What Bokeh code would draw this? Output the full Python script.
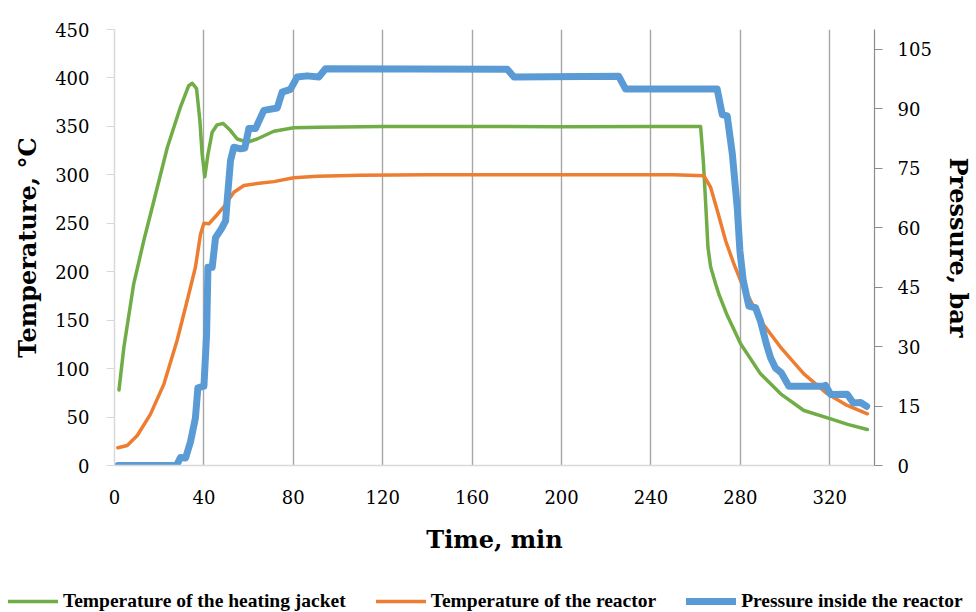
from bokeh.plotting import figure
from bokeh.layouts import column
from bokeh.models import Range1d, LinearAxis, Legend, LegendItem, FixedTicker
from bokeh.embed import file_html
from bokeh.resources import INLINE

# ---- data ----
jacket_t = [2, 4.2, 8.6, 13.1, 17.6, 23.6, 29.5, 33.2, 34.8, 36.7, 38.2, 39.2, 40.4, 41.8,
            43.7, 45.9, 48.6, 51.9, 54.9, 59.4, 63.8, 71.3, 80.2, 91.4, 120, 160, 200, 240,
            262.2, 263.4, 264.4, 265.5, 266.7, 268.9, 270.5, 274.1, 280.1, 289, 298, 308.4,
            320.4, 328, 336.8]
jacket_T = [78, 122, 187.5, 232, 273, 328, 370, 392, 394.5, 389, 356, 321.7, 298, 321,
            344, 351.6, 353, 345.7, 337, 333.6, 337, 345, 348.5, 349, 350, 350, 349.5, 350,
            350, 315, 273.5, 225, 205, 187.5, 176, 155, 125.6, 94.6, 74, 56.8,
            48.2, 42.5, 37.2]

reactor_t = [1.5, 5.7, 10.2, 16.1, 22.1, 28, 32.5, 36.2, 38.5, 40, 42.2, 45.2, 48.9, 53.4,
             57.9, 63.8, 71.3, 80.2, 90.7, 110, 140, 180, 220, 250, 263.7, 266.7, 269.7,
             273.4, 277.1, 280.4, 289, 298, 308.4, 318.9, 327.8, 336.8]
reactor_T = [18.3, 20.6, 31, 53, 84, 129, 170, 204.6, 239, 250, 249.4, 257, 267, 282,
             289, 291, 293, 297, 298.5, 299.5, 300, 300, 300, 300, 299, 287, 263,
             232, 208, 189, 149.6, 122, 94.6, 74, 62, 53.4]

pressure_t = [1.5, 27.7, 29.5, 31.8, 34, 36.2, 37.3, 40, 41.2, 41.8, 43.7, 45.2, 47.7, 49.7,
              50.4, 51.9, 53.4, 56.4, 58.3, 60.1, 63.1, 66.8, 72.8, 75, 78.7, 81.7, 86.2,
              91.4, 94.4, 175.7, 178.7, 225.6, 228.6, 269.6, 271.9, 274.1, 276.4, 278.6,
              279.8, 281.3, 283.8, 286.8, 289, 291.7, 293.5, 295.7, 298.3, 301.7, 317.4,
              318.1, 320.4, 327.8, 330.5, 333.8, 336.5]
pressure_P = [0, 0, 2, 1.9, 6, 12, 19.6, 20, 33, 50, 50, 57.5, 59.6, 61.7,
              66.8, 76.9, 80.3, 79.9, 80.1, 85, 85, 89.6, 90.2, 94.2, 94.9, 98, 98.3,
              98, 100.1, 100, 98, 98.2, 95, 95, 88.5, 88.2, 78.6, 65,
              54.1, 46.6, 40.2, 39.8, 36.4, 30.5, 27.2, 24.6, 23.4, 20, 20,
              20.2, 17.9, 18, 15.8, 15.9, 14.9]

x_ticks = [0, 40, 80, 120, 160, 200, 240, 280, 320]
temp_ticks = [0, 50, 100, 150, 200, 250, 300, 350, 400, 450]
press_ticks = [0, 15, 30, 45, 60, 75, 90, 105]

labels = ["Temperature of the heating jacket", "Temperature of the reactor",
          "Pressure inside the reactor"]

GREEN = "#70AD47"
ORANGE = "#ED7D31"
BLUE = "#5B9BD5"
COLORS = [GREEN, ORANGE, BLUE]
WIDTHS = [3.5, 3.5, 7]

p = figure(width=976, height=582, output_backend="svg", toolbar_location=None,
           x_range=Range1d(0, 340), y_range=Range1d(0, 450),
           min_border_left=114, min_border_right=102, min_border_top=29,
           min_border_bottom=117, background_fill_color="white",
           border_fill_color="white", outline_line_color=None)
p.extra_y_ranges = {"pres": Range1d(0, 110)}
p.frame_align = False

TICK_FONT = "DejaVu Serif"

# x axis
xa = p.xaxis[0]
xa.ticker = FixedTicker(ticks=x_ticks)
xa.axis_line_color = "#d9d9d9"
xa.axis_line_width = 1.5
xa.major_tick_line_color = None
xa.major_tick_out = 0
xa.major_tick_in = 0
xa.minor_tick_line_color = None
xa.major_label_standoff = 24
xa.major_label_text_font = TICK_FONT
xa.major_label_text_font_size = "18px"
xa.major_label_text_color = "black"
xa.axis_label = "Time, min"
xa.axis_label_text_font = TICK_FONT
xa.axis_label_text_font_style = "bold"
xa.axis_label_text_font_size = "24px"
xa.axis_label_text_color = "black"
xa.axis_label_standoff = 18

# left axis
ya = p.yaxis[0]
ya.ticker = FixedTicker(ticks=temp_ticks)
ya.axis_line_color = "#d9d9d9"
ya.axis_line_width = 1.5
ya.major_tick_line_color = "#d9d9d9"
ya.major_tick_out = 8
ya.major_tick_in = 0
ya.minor_tick_line_color = None
ya.major_label_standoff = 17
ya.major_label_text_font = TICK_FONT
ya.major_label_text_font_size = "18px"
ya.major_label_text_color = "black"
ya.axis_label = "Temperature, °C"
ya.axis_label_text_font = TICK_FONT
ya.axis_label_text_font_style = "bold"
ya.axis_label_text_font_size = "24px"
ya.axis_label_text_color = "black"
ya.axis_label_standoff = 10

# right axis
ra = LinearAxis(y_range_name="pres", ticker=FixedTicker(ticks=press_ticks))
ra.axis_line_color = "#8c8c8c"
ra.axis_line_width = 1.2
ra.major_tick_line_color = "#8c8c8c"
ra.major_tick_out = 8
ra.major_tick_in = 0
ra.minor_tick_line_color = None
ra.major_label_standoff = 15
ra.major_label_text_font = TICK_FONT
ra.major_label_text_font_size = "18px"
ra.major_label_text_color = "black"
ra.axis_label = "Pressure, bar"
ra.axis_label_text_font = TICK_FONT
ra.axis_label_text_font_style = "bold"
ra.axis_label_text_font_size = "24px"
ra.axis_label_text_color = "black"
ra.axis_label_standoff = 9
p.add_layout(ra, "right")

# grids
p.ygrid.grid_line_color = None
p.xgrid.ticker = FixedTicker(ticks=x_ticks[1:])
p.xgrid.grid_line_color = "#a6a6a6"
p.xgrid.grid_line_width = 1.4

p.line(jacket_t, jacket_T, line_color=GREEN, line_width=3.5,
       line_join="round", line_cap="round")
p.line(reactor_t, reactor_T, line_color=ORANGE, line_width=3.5,
       line_join="round", line_cap="round")
p.line(pressure_t, pressure_P, y_range_name="pres", line_color=BLUE, line_width=7,
       line_join="round", line_cap="round")

# ---- legend strip below the chart (its own frame spans the full width) ----
lg = figure(width=976, height=30, output_backend="svg", toolbar_location=None,
            x_range=Range1d(0, 1), y_range=Range1d(0, 1),
            x_axis_type=None, y_axis_type=None,
            min_border_left=0, min_border_right=0, min_border_top=0, min_border_bottom=0,
            background_fill_color="white", border_fill_color="white",
            outline_line_color=None)
lg.frame_align = False
lg.xgrid.grid_line_color = None
lg.ygrid.grid_line_color = None
items = []
for lab, col, w in zip(labels, COLORS, WIDTHS):
    # key-only renderer: its single point lies outside the strip's range
    r = lg.line(x=[0], y=[-10], line_color=col, line_width=w, line_cap="round")
    items.append(LegendItem(label=lab, renderers=[r]))

legend = Legend(items=items, location=(8, 0), orientation="horizontal",
                glyph_width=50, glyph_height=20, label_height=20, label_standoff=5,
                spacing=30, padding=0, margin=0, border_line_color=None,
                background_fill_alpha=0,
                label_text_font="Liberation Serif", label_text_font_style="bold",
                label_text_font_size="19.5px", label_text_color="black")
lg.add_layout(legend, "center")

layout = column(p, lg, spacing=0)
open("out.html", "w").write(file_html(layout, INLINE))
